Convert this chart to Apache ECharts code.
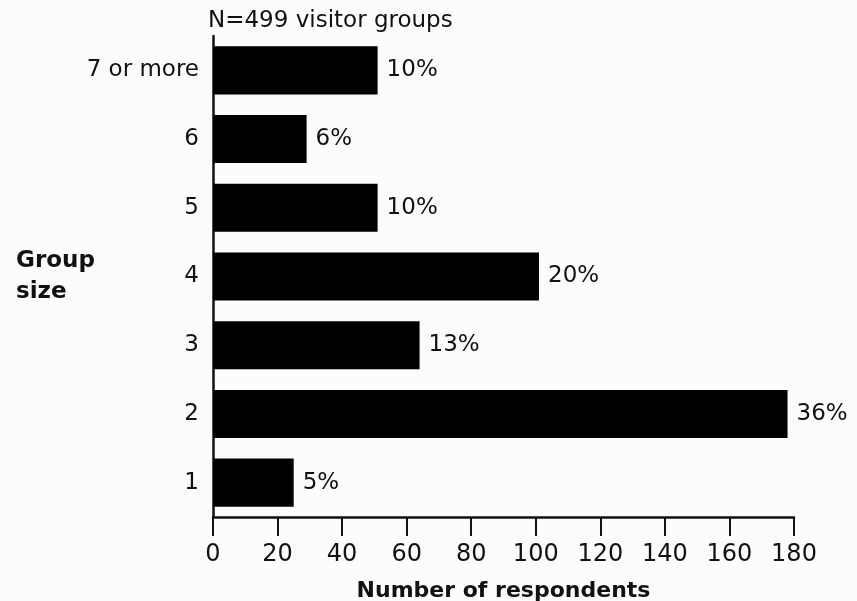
<!DOCTYPE html>
<html>
<head>
<meta charset="utf-8">
<script src="https://cdn.jsdelivr.net/npm/echarts@6/dist/echarts.min.js"></script>
<style>
html,body{margin:0;padding:0;background:#fcfcfc;}
#chart{width:857px;height:601px;}
</style>
</head>
<body>
<div id="chart"></div>
<script>
var categories = ['1', '2', '3', '4', '5', '6', '7 or more'];
var respondents = [25, 178, 64, 101, 51, 29, 51];
var percents = [5, 36, 13, 20, 10, 6, 10];
var xTicks = [0, 20, 40, 60, 80, 100, 120, 140, 160, 180];

var FONT = '"DejaVu Sans", "Liberation Sans", Arial, sans-serif';
var chart = echarts.init(document.getElementById('chart'));
chart.setOption({
  backgroundColor: '#fcfcfc',
  animation: false,
  textStyle: { fontFamily: FONT },
  graphic: [{
    type: 'text',
    left: 208, top: 10,
    style: {
      text: 'N=499 visitor groups',
      font: '23px ' + FONT,
      fill: '#111'
    }
  }, {
    type: 'text',
    left: 16, top: 246,
    style: {
      text: 'Group\nsize',
      font: 'bold 23px ' + FONT,
      fill: '#111',
      lineHeight: 31
    }
  }],
  grid: { left: 213, right: 63, top: 36, bottom: 84, containLabel: false, outerBoundsMode: 'none' },
  xAxis: {
    type: 'value',
    min: xTicks[0], max: xTicks[xTicks.length - 1], interval: 20,
    name: 'Number of respondents',
    nameLocation: 'middle',
    nameGap: 63,
    nameTextStyle: { fontFamily: FONT, fontSize: 22, fontWeight: 'bold', color: '#111' },
    axisLine: { show: true, lineStyle: { color: '#111', width: 2.5 } },
    axisTick: { show: true, length: 19, lineStyle: { color: '#111', width: 2 } },
    axisLabel: { fontFamily: FONT, fontSize: 24, color: '#111', margin: 26 },
    splitLine: { show: false }
  },
  yAxis: {
    type: 'category',
    data: categories,
    axisLine: { show: true, lineStyle: { color: '#111', width: 2.5 } },
    axisTick: { show: false },
    axisLabel: { fontFamily: FONT, fontSize: 23, color: '#111', margin: 14 }
  },
  series: [{
    type: 'bar',
    data: respondents,
    barCategoryGap: '30%',
    itemStyle: { color: '#000' },
    label: {
      show: true,
      position: 'right',
      distance: 9,
      fontFamily: FONT,
      fontSize: 23,
      color: '#111',
      formatter: function (p) { return percents[p.dataIndex] + '%'; }
    }
  }]
});
</script>
</body>
</html>
